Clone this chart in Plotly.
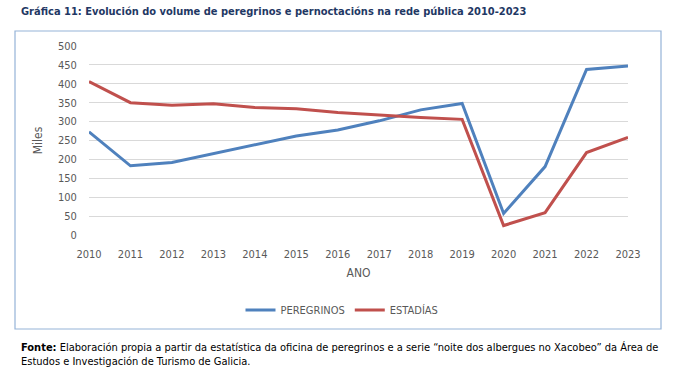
import plotly.graph_objects as go

years = [2010, 2011, 2012, 2013, 2014, 2015, 2016, 2017, 2018, 2019, 2020, 2021, 2022, 2023]
peregrinos = [273, 183, 192, 216, 238, 262, 278, 302, 331, 348, 57, 181, 438, 447]
estadias = [406, 350, 343, 347, 337, 334, 324, 317, 311, 306, 25, 59, 218, 258]
series_names = ["PEREGRINOS", "ESTADÍAS"]
y_ticks = list(range(0, 501, 50))

FONT = "DejaVu Sans Condensed, sans-serif"
L, R, T, B = 89, 628, 46, 235
W, H = 675, 375


def px(x):
    return (x - L) / (R - L)


def py(y):
    return (B - y) / (B - T)


fig = go.Figure()
fig.add_trace(go.Scatter(x=years, y=peregrinos, mode="lines", name=series_names[0],
                         line=dict(color="#4F81BD", width=3)))
fig.add_trace(go.Scatter(x=years, y=estadias, mode="lines", name=series_names[1],
                         line=dict(color="#C0504D", width=3)))

fig.update_layout(
    width=W, height=H,
    margin=dict(l=L, r=W - R, t=T, b=H - B),
    paper_bgcolor="white", plot_bgcolor="white",
    font=dict(family=FONT, size=11, color="#595959"),
    showlegend=True,
    legend=dict(orientation="h", x=px(342), xanchor="center", y=py(310), yanchor="middle",
                font=dict(size=11, color="#595959"), itemwidth=30, tracegroupgap=0),
    xaxis=dict(range=[2010, 2023], tickvals=years, ticktext=[str(y) for y in years],
               showgrid=False, zeroline=False, showline=False,
               ticks="outside", ticklen=9, tickcolor="rgba(0,0,0,0)",
               tickfont=dict(size=11, color="#595959"),
               title=dict(text="ANO", font=dict(size=12, color="#595959"), standoff=8)),
    yaxis=dict(range=[0, 500], tickvals=y_ticks, showgrid=True, gridcolor="#D9D9D9",
               gridwidth=1, zeroline=False, showline=False,
               ticks="outside", ticklen=9, tickcolor="rgba(0,0,0,0)",
               tickfont=dict(size=11, color="#595959"),
               title=dict(text="Miles", font=dict(size=12, color="#595959"), standoff=12)),
)

# chart box border
fig.add_shape(type="rect", xref="paper", yref="paper",
              x0=px(15), x1=px(661), y0=py(329), y1=py(31),
              line=dict(color="#95B3D7", width=1.2), fillcolor="rgba(0,0,0,0)", layer="below")

fig.add_annotation(xref="paper", yref="paper", x=px(19), y=py(12), xanchor="left", yanchor="middle",
                   text="<b>Gráfica 11: Evolución do volume de peregrinos e pernoctacións na rede pública 2010-2023</b>",
                   showarrow=False, font=dict(family=FONT, size=11, color="#1F3864"))

fig.add_annotation(xref="paper", yref="paper", x=px(19), y=py(354), xanchor="left", yanchor="middle",
                   align="left",
                   text="<b>Fonte:</b> Elaboración propia a partir da estatística da oficina de peregrinos e a serie “noite dos albergues no Xacobeo” da Área de<br>Estudos e Investigación de Turismo de Galicia.",
                   showarrow=False, font=dict(family=FONT, size=11, color="#000000"))

fig.write_html("out.html", config={"displayModeBar": False},
               post_script="document.body.style.margin='0';document.body.style.overflow='hidden';")
